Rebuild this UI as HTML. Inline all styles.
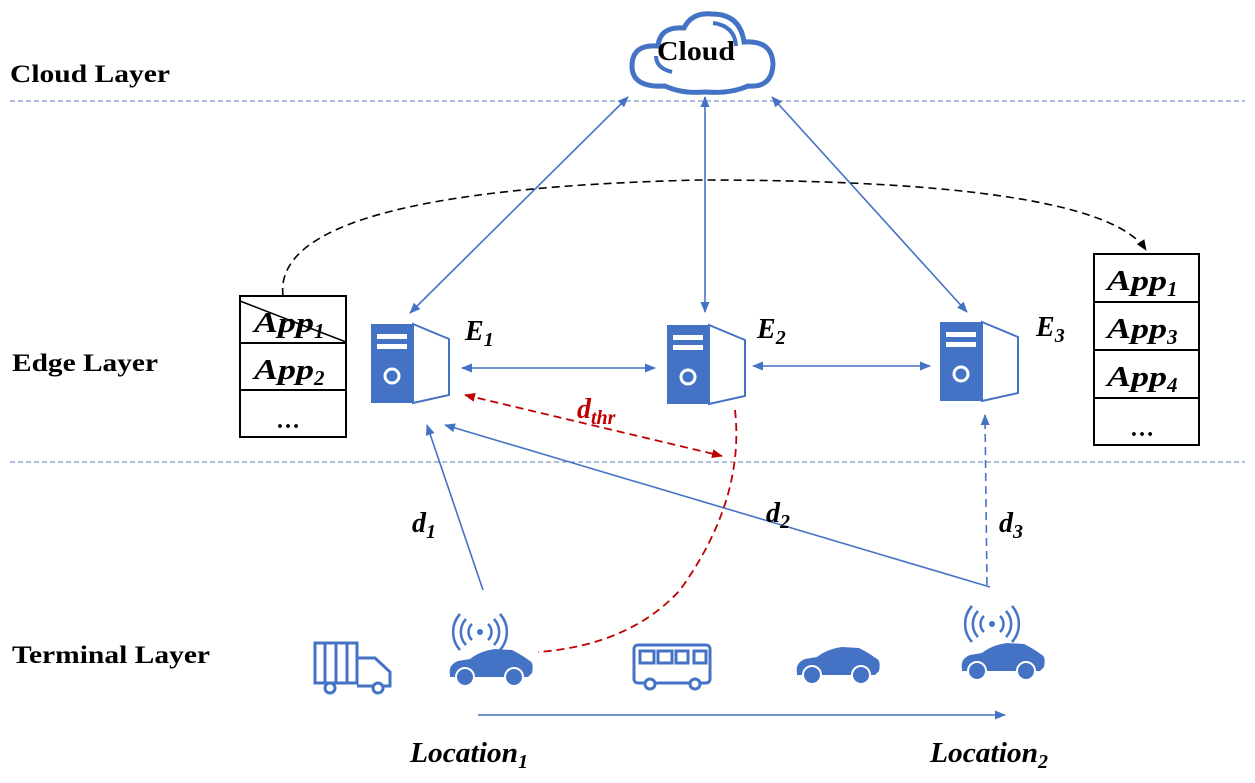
<!DOCTYPE html>
<html><head><meta charset="utf-8"><style>
html,body{margin:0;padding:0;background:#fff;}
svg text{font-family:"Liberation Serif",serif;font-weight:bold;}
</style></head><body>
<svg width="1255" height="778" viewBox="0 0 1255 778" xmlns="http://www.w3.org/2000/svg">
<defs>
<marker id="ab" markerWidth="11" markerHeight="9" refX="10" refY="4.5" orient="auto" markerUnits="userSpaceOnUse"><path d="M0,0 L11,4.5 L0,9 z" fill="#4472c4"/></marker>
<marker id="abs" markerWidth="11" markerHeight="9" refX="1" refY="4.5" orient="auto" markerUnits="userSpaceOnUse"><path d="M11,0 L0,4.5 L11,9 z" fill="#4472c4"/></marker>
<marker id="ar" markerWidth="11" markerHeight="9" refX="10" refY="4.5" orient="auto" markerUnits="userSpaceOnUse"><path d="M0,0 L11,4.5 L0,9 z" fill="#c00000"/></marker>
<marker id="ars" markerWidth="11" markerHeight="9" refX="1" refY="4.5" orient="auto" markerUnits="userSpaceOnUse"><path d="M11,0 L0,4.5 L11,9 z" fill="#c00000"/></marker>
<marker id="ak" markerWidth="11" markerHeight="9" refX="10" refY="4.5" orient="auto" markerUnits="userSpaceOnUse"><path d="M0,0 L11,4.5 L0,9 z" fill="#000"/></marker>
<g id="srv">
<rect x="0" y="0" width="42" height="79" fill="#4472c4"/>
<polygon points="42,0 78,15 78,71 42,79" fill="#fff" stroke="#4472c4" stroke-width="2"/>
<rect x="6" y="10" width="30" height="5" fill="#fff"/>
<rect x="6" y="20" width="30" height="5" fill="#fff"/>
<circle cx="21" cy="52" r="7" fill="none" stroke="#fff" stroke-width="3"/>
</g>
<g id="car">
<path d="M0,58 Q-2,48 8,44 L20,42 Q30,34 45,32 L62,33 Q72,38 80,44 Q84,46 82,56 L78,60 L0,60 z" fill="#4472c4"/>
<circle cx="15" cy="60" r="9" fill="#4472c4" stroke="#fff" stroke-width="2"/>
<circle cx="64" cy="60" r="9" fill="#4472c4" stroke="#fff" stroke-width="2"/>
</g>
<g id="sig" fill="none" stroke="#4472c4" stroke-width="2.5">
<circle cx="0" cy="0" r="3" fill="#4472c4" stroke="none"/>
<path d="M-8,-8 A11,11 0 0,0 -8,8 M8,-8 A11,11 0 0,1 8,8"/>
<path d="M-14,-13 A19,19 0 0,0 -14,13 M14,-13 A19,19 0 0,1 14,13"/>
<path d="M-20,-18 A27,27 0 0,0 -20,18 M20,-18 A27,27 0 0,1 20,18"/>
</g>
</defs>

<line x1="10" y1="101" x2="1245" y2="101" stroke="#7f98cf" stroke-width="1.2" stroke-dasharray="5,3"/>
<line x1="10" y1="462" x2="1245" y2="462" stroke="#7f98cf" stroke-width="1.2" stroke-dasharray="5,3"/>

<text x="10" y="82" font-size="25" textLength="160" lengthAdjust="spacingAndGlyphs">Cloud Layer</text>
<text x="12" y="371" font-size="25" textLength="146" lengthAdjust="spacingAndGlyphs">Edge Layer</text>
<text x="12" y="663" font-size="25" textLength="198" lengthAdjust="spacingAndGlyphs">Terminal Layer</text>

<!-- cloud -->
<path d="M665,86 Q632,88 632,66 Q632,44 658,46 Q660,26 684,28 Q692,12 712,14 Q740,14 744,42 Q772,40 773,64 Q772,88 748,86 Q730,94 705,92 Q682,94 665,86 z" fill="#fff" stroke="#4472c4" stroke-width="5"/>
<path d="M656,56 Q656,68 672,72" fill="none" stroke="#4472c4" stroke-width="4"/>
<path d="M713,23 Q735,26 736,46" fill="none" stroke="#4472c4" stroke-width="4"/>
<text x="657" y="60" font-size="27" textLength="78" lengthAdjust="spacingAndGlyphs">Cloud</text>

<!-- servers -->
<use href="#srv" x="371" y="324"/>
<use href="#srv" x="667" y="325"/>
<use href="#srv" x="940" y="322"/>
<g font-size="28" font-style="italic">
<text x="465" y="340">E<tspan font-size="20" dy="6">1</tspan></text>
<text x="757" y="338">E<tspan font-size="20" dy="6">2</tspan></text>
<text x="1036" y="336">E<tspan font-size="20" dy="6">3</tspan></text>
</g>

<!-- app boxes -->
<g stroke="#000" stroke-width="2" fill="none">
<rect x="240" y="296" width="106" height="141"/>
<line x1="240" y1="343" x2="346" y2="343"/>
<line x1="240" y1="390" x2="346" y2="390"/>
<line x1="240" y1="301" x2="346" y2="342" stroke-width="1.5"/>
<rect x="1094" y="254" width="105" height="191"/>
<line x1="1094" y1="302" x2="1199" y2="302"/>
<line x1="1094" y1="350" x2="1199" y2="350"/>
<line x1="1094" y1="398" x2="1199" y2="398"/>
</g>
<g font-size="29" font-style="italic">
<text x="254" y="332"><tspan textLength="60" lengthAdjust="spacingAndGlyphs">App</tspan><tspan font-size="21" dy="6">1</tspan></text>
<text x="254" y="379"><tspan textLength="60" lengthAdjust="spacingAndGlyphs">App</tspan><tspan font-size="21" dy="6">2</tspan></text>
<text x="1107" y="290"><tspan textLength="60" lengthAdjust="spacingAndGlyphs">App</tspan><tspan font-size="21" dy="6">1</tspan></text>
<text x="1107" y="338"><tspan textLength="60" lengthAdjust="spacingAndGlyphs">App</tspan><tspan font-size="21" dy="6">3</tspan></text>
<text x="1107" y="386"><tspan textLength="60" lengthAdjust="spacingAndGlyphs">App</tspan><tspan font-size="21" dy="6">4</tspan></text>
</g>
<text x="276" y="428" font-size="24">…</text>
<text x="1130" y="436" font-size="24">…</text>

<!-- blue arrows -->
<g stroke="#4472c4" stroke-width="1.6" fill="none">
<line x1="628" y1="97" x2="410" y2="313" marker-start="url(#abs)" marker-end="url(#ab)"/>
<line x1="705" y1="97" x2="705" y2="312" marker-start="url(#abs)" marker-end="url(#ab)"/>
<line x1="772" y1="97" x2="967" y2="312" marker-start="url(#abs)" marker-end="url(#ab)"/>
<line x1="462" y1="368" x2="655" y2="368" marker-start="url(#abs)" marker-end="url(#ab)"/>
<line x1="753" y1="366" x2="930" y2="366" marker-start="url(#abs)" marker-end="url(#ab)"/>
<line x1="483" y1="590" x2="427" y2="425" marker-end="url(#ab)"/>
<line x1="990" y1="587" x2="445" y2="425" marker-end="url(#ab)"/>
<line x1="987" y1="585" x2="985" y2="415" stroke-dasharray="8,5" marker-end="url(#ab)"/>
<line x1="478" y1="715" x2="1005" y2="715" marker-end="url(#ab)"/>
</g>

<!-- red -->
<g stroke="#c00000" stroke-width="1.8" fill="none" stroke-dasharray="8,5">
<line x1="465" y1="395" x2="722" y2="456" marker-start="url(#ars)" marker-end="url(#ar)"/>
<path d="M735,410 Q745,500 680,590 Q630,645 538,652"/>
</g>
<text x="577" y="418" font-size="28" font-style="italic" fill="#c00000">d<tspan font-size="20" dy="6">thr</tspan></text>

<!-- black dashed curve -->
<path d="M283,296 Q270,190 700,180 Q1100,180 1146,250" stroke="#000" stroke-width="1.6" fill="none" stroke-dasharray="8,5" marker-end="url(#ak)"/>

<g font-size="28" font-style="italic">
<text x="412" y="532">d<tspan font-size="20" dy="6">1</tspan></text>
<text x="766" y="522">d<tspan font-size="20" dy="6">2</tspan></text>
<text x="999" y="532">d<tspan font-size="20" dy="6">3</tspan></text>
</g>

<!-- truck -->
<g fill="none" stroke="#4472c4" stroke-width="3">
<rect x="315" y="643" width="42" height="40"/>
<line x1="325" y1="643" x2="325" y2="683"/><line x1="336" y1="643" x2="336" y2="683"/><line x1="347" y1="643" x2="347" y2="683"/>
<path d="M357,658 L375,658 L390,672 L390,686 L357,686"/>
<circle cx="330" cy="688" r="5" fill="#fff"/><circle cx="378" cy="688" r="5" fill="#fff"/>
</g>
<!-- bus -->
<g fill="none" stroke="#4472c4" stroke-width="3">
<rect x="634" y="645" width="76" height="38" rx="4"/>
<rect x="640" y="651" width="14" height="12"/><rect x="658" y="651" width="14" height="12"/><rect x="676" y="651" width="12" height="12"/><rect x="694" y="651" width="12" height="12"/>
<circle cx="650" cy="684" r="5" fill="#fff"/><circle cx="695" cy="684" r="5" fill="#fff"/>
</g>
<!-- cars -->
<use href="#car" x="450" y="617"/>
<use href="#sig" x="480" y="632"/>
<use href="#car" x="797" y="615"/>
<use href="#car" x="962" y="611"/>
<use href="#sig" x="992" y="624"/>

<g font-size="28" font-style="italic">
<text x="410" y="762"><tspan textLength="108" lengthAdjust="spacingAndGlyphs">Location</tspan><tspan font-size="20" dy="6">1</tspan></text>
<text x="930" y="762"><tspan textLength="108" lengthAdjust="spacingAndGlyphs">Location</tspan><tspan font-size="20" dy="6">2</tspan></text>
</g>
</svg>
</body></html>
